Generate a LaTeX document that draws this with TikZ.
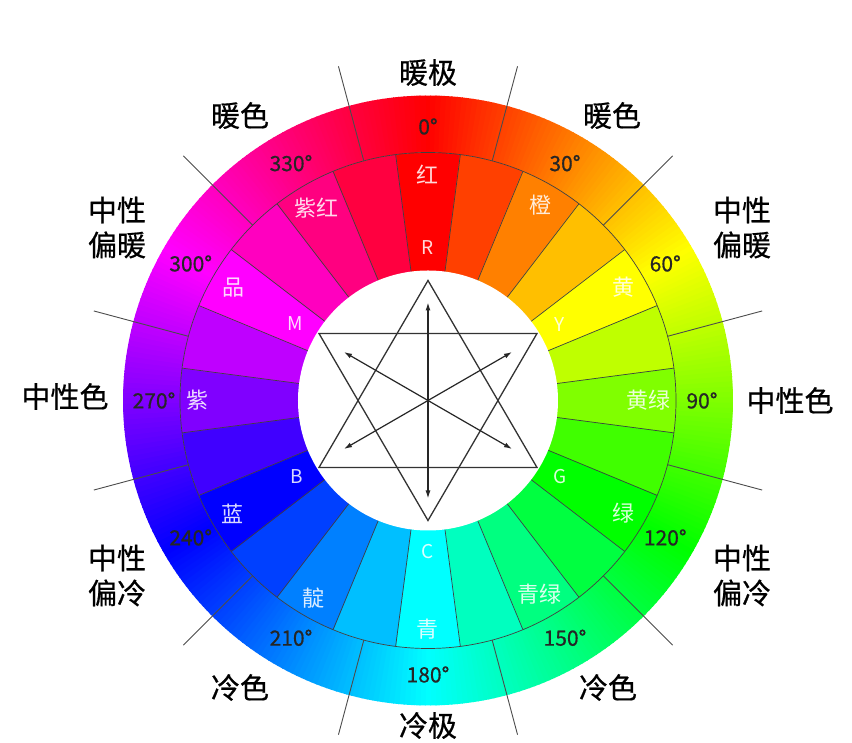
\documentclass[tikz,border=0pt]{standalone}
\usepackage{fontspec}
\setmainfont{Noto Sans CJK SC}
\newfontfamily\heavycjk{Noto Sans CJK SC}[FakeBold=0.6]
\usetikzlibrary{arrows.meta}
\tikzset{
  degree/.style={font=\heavycjk\fontsize{21}{21}\selectfont, text=black!85},
  huename/.style={font=\fontsize{22}{22}\selectfont, text=white, text opacity=0.85},
  hueletter/.style={font=\fontsize{19}{19}\selectfont, text=white, text opacity=0.85},
  zone/.style={font=\heavycjk\fontsize{29}{35}\selectfont, align=center, text=black},
  segline/.style={draw=black!75, line width=0.7pt},
  tickline/.style={draw=black!70, line width=0.9pt},
  starline/.style={draw=black!80, line width=1.3pt},
  axis/.style={draw=black!85, line width=1.2pt, {Latex[length=8pt,width=5pt]}-{Latex[length=8pt,width=5pt]}}
}

\begin{document}
\begin{tikzpicture}[x=1pt, y=1pt]
  \useasboundingbox (-428,-342.5) rectangle (424,400.5);
  \fill[white] (-428,-342.5) rectangle (424,400.5);

  \foreach \h in {0,...,359} {
    \definecolor{ringcol}{Hsb}{\h,1,1}
    \fill[ringcol] ({90-\h+0.6}:248) arc[start angle=90-\h+0.6, end angle=90-\h-0.6, radius=248]
      -- ({90-\h-0.6}:305) arc[start angle=90-\h-0.6, end angle=90-\h+0.6, radius=305] -- cycle;
  }
  \foreach \h in {0,15,...,345} {
    \definecolor{segcol}{Hsb}{\h,1,1}
    \fill[segcol] ({90-\h+7.6}:129) arc[start angle=90-\h+7.6, end angle=90-\h-7.6, radius=129]
      -- ({90-\h-7.6}:248) arc[start angle=90-\h-7.6, end angle=90-\h+7.6, radius=248] -- cycle;
  }
  \foreach \h in {7.5,22.5,...,352.5}
    \draw[segline] ({90-\h}:130) -- ({90-\h}:248);
  \draw[segline] (0,0) circle[radius=248];
  \fill[white] (0,0) circle[radius=130];
  \foreach \h in {15,45,...,345}
    \draw[tickline] ({90-\h}:248) -- ({90-\h}:346);

  \foreach \h in {0,30,...,330}
    \node[degree] (deg\h) at ({90-\h}:274) {\h°};

  \node[huename] (hong) at (90:226) {红};
  \node[huename] (cheng) at (60:226) {橙};
  \node[huename] (huang) at (30:226) {黄};
  \node[huename] (huanglv) at (0:220) {黄绿};
  \node[huename] (lv) at (-30:226) {绿};
  \node[huename] (qinglv) at (-60:224) {青绿};
  \node[huename] (qing) at (-90:229) {青};
  \node[huename] (dian) at (-120:228) {靛};
  \node[huename] (lan) at (-150:226) {蓝};
  \node[huename] (zi) at (180:230) {紫};
  \node[huename] (pin) at (150:225) {品};
  \node[huename] (zihong) at (120:222) {紫红};

  \node[hueletter] (letR) at (90:153) {R};
  \node[hueletter] (letY) at (30:152) {Y};
  \node[hueletter] (letG) at (-30:152) {G};
  \node[hueletter] (letC) at (-90:151) {C};
  \node[hueletter] (letB) at (-150:152) {B};
  \node[hueletter] (letM) at (150:153) {M};

  \node[zone] (nuanji) at (0,328) {暖极};
  \node[zone] (nuanseR) at (184,285) {暖色};
  \node[zone] (nuanseL) at (-188,285) {暖色};
  \node[zone] (pianuanR) at (314,173) {中性\\偏暖};
  \node[zone] (pianuanL) at (-311,173) {中性\\偏暖};
  \node[zone] (zhongR) at (362,0) {中性色};
  \node[zone] (zhongL) at (-363,4) {中性色};
  \node[zone] (pianlengR) at (314,-175) {中性\\偏冷};
  \node[zone] (pianlengL) at (-311,-175) {中性\\偏冷};
  \node[zone] (lengseR) at (180,-287) {冷色};
  \node[zone] (lengseL) at (-188,-287) {冷色};
  \node[zone] (lengji) at (0,-325) {冷极};

  \coordinate (up1) at (0,120);
  \coordinate (up2) at (109,-67);
  \coordinate (up3) at (-109,-67);
  \coordinate (dn1) at (0,-120);
  \coordinate (dn2) at (-109,67);
  \coordinate (dn3) at (109,67);
  \draw[starline] (up1) -- (up2) -- (up3) -- cycle;
  \draw[starline] (dn1) -- (dn2) -- (dn3) -- cycle;

  \coordinate (tipR) at (90:98);
  \coordinate (tipC) at (-90:98);
  \coordinate (tipY) at (30:97);
  \coordinate (tipB) at (210:97);
  \coordinate (tipG) at (-30:97);
  \coordinate (tipM) at (150:97);
  \draw[axis] (tipR) -- (tipC);
  \draw[axis] (tipY) -- (tipB);
  \draw[axis] (tipG) -- (tipM);
\end{tikzpicture}
\end{document}
